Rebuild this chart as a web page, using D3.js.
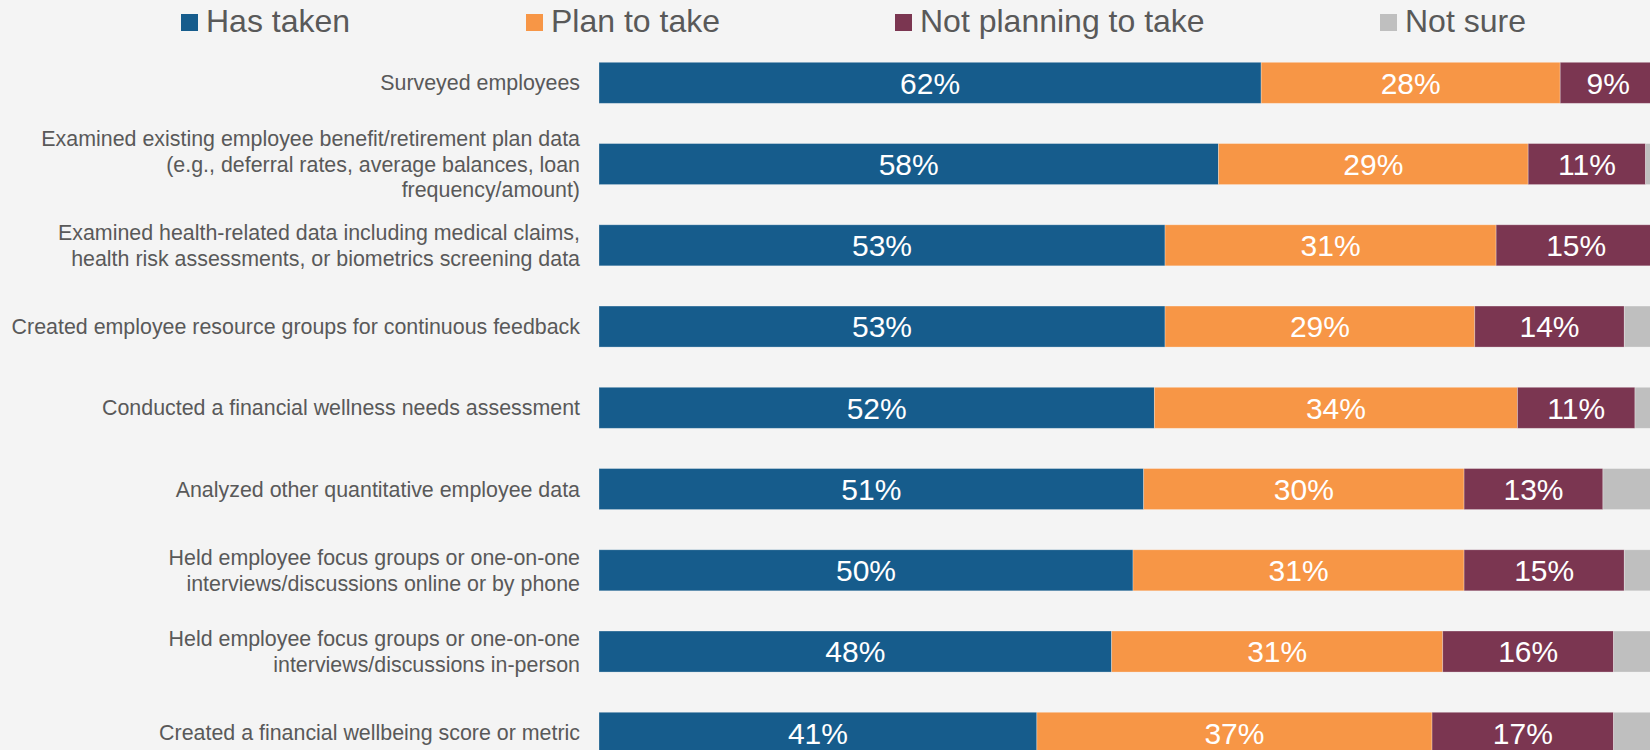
<!DOCTYPE html>
<html>
<head>
<meta charset="utf-8">
<script src="https://cdn.jsdelivr.net/npm/d3@7"></script>
<style>
  html, body { margin: 0; padding: 0; background: #f4f4f4; overflow: hidden; }
  svg { display: block; font-family: "Liberation Sans", Arial, sans-serif; }
</style>
</head>
<body>
<svg id="chart" width="1650" height="750"></svg>
<script>
// Actions taken to understand employee needs
const categories = [
  "Surveyed employees",
  "Examined existing employee benefit/retirement plan data (e.g., deferral rates, average balances, loan frequency/amount)",
  "Examined health-related data including medical claims, health risk assessments, or biometrics screening data",
  "Created employee resource groups for continuous feedback",
  "Conducted a financial wellness needs assessment",
  "Analyzed other quantitative employee data",
  "Held employee focus groups or one-on-one interviews/discussions online or by phone",
  "Held employee focus groups or one-on-one interviews/discussions in-person",
  "Created a financial wellbeing score or metric"
];
const seriesNames = ["Has taken", "Plan to take", "Not planning to take", "Not sure"];
const hasTaken    = [62, 58, 53, 53, 52, 51, 50, 48, 41];
const planToTake  = [28, 29, 31, 29, 34, 30, 31, 31, 37];
const notPlanning = [9, 11, 15, 14, 11, 13, 15, 16, 17];
const notSure     = [1, 2, 1, 4, 3, 6, 4, 5, 5];
const colors = ["#165c8c", "#f79646", "#7b3651", "#bfbfbf"];

const W = 1650, H = 750;
const svg = d3.select("#chart");
svg.append("rect").attr("width", W).attr("height", H).attr("fill", "#f4f4f4");

const table = categories.map((c, i) => ({
  category: c,
  "Has taken": hasTaken[i],
  "Plan to take": planToTake[i],
  "Not planning to take": notPlanning[i],
  "Not sure": notSure[i]
}));
const stacked = d3.stack().keys(seriesNames)(table);

const x = d3.scaleLinear().domain([0, 100]).range([599, 1667]);
const y = d3.scaleBand().domain(categories).range([62.3, 753.3])
  .paddingInner(0.495).paddingOuter(0);

const layers = svg.append("g").selectAll("g")
  .data(stacked).join("g")
  .attr("fill", (d, i) => colors[i]);

layers.selectAll("rect")
  .data(d => d.map(s => ({ s, key: d.key })))
  .join("rect")
  .attr("x", d => x(d.s[0]))
  .attr("y", d => y(d.s.data.category))
  .attr("width", d => x(d.s[1]) - x(d.s[0]))
  .attr("height", y.bandwidth())
  .attr("stroke", "#ffffff")
  .attr("stroke-opacity", 0.35)
  .attr("stroke-width", 0.8);

// value labels inside the first three segments
layers.filter((d, i) => i < 3).selectAll("text")
  .data(d => d)
  .join("text")
  .attr("x", d => (x(d[0]) + x(d[1])) / 2)
  .attr("y", d => y(d.data.category) + y.bandwidth() / 2)
  .attr("dy", "0.36em")
  .attr("text-anchor", "middle")
  .attr("fill", "#ffffff")
  .attr("font-size", 30)
  .text(d => `${d[1] - d[0]}%`);

// category labels, wrapped and right-aligned next to the bars
const labelX = 580, wrapWidth = 576, lineH = 25.8, labelSize = 21.4;
const labelG = svg.append("g")
  .attr("font-size", labelSize)
  .attr("fill", "#595959")
  .attr("text-anchor", "end");

categories.forEach(cat => {
  const t = labelG.append("text").attr("x", labelX);
  const words = cat.split(" ");
  const lines = [];
  let line = [];
  const probe = t.append("tspan");
  words.forEach(w => {
    const trial = line.concat(w).join(" ");
    probe.text(trial);
    if (probe.node().getComputedTextLength() > wrapWidth && line.length) {
      lines.push(line.join(" "));
      line = [w];
    } else {
      line.push(w);
    }
  });
  lines.push(line.join(" "));
  probe.remove();
  const cy = y(cat) + y.bandwidth() / 2;
  const top = cy - (lines.length - 1) * lineH / 2;
  lines.forEach((l, k) => {
    t.append("tspan")
      .attr("x", labelX)
      .attr("y", top + k * lineH)
      .attr("dy", "0.35em")
      .text(l);
  });
});

// legend across the top: swatch left edges
const legendX = [181, 526, 895, 1380];
const legend = svg.append("g").selectAll("g")
  .data(seriesNames).join("g")
  .attr("transform", (d, i) => `translate(${legendX[i]},0)`);
legend.append("rect")
  .attr("y", 14).attr("width", 17).attr("height", 17)
  .attr("fill", (d, i) => colors[i]);
legend.append("text")
  .attr("x", 25).attr("y", 32.3)
  .attr("font-size", 32)
  .attr("fill", "#595959")
  .attr("transform", "scale(1,1)")
  .text(d => d);
</script>
</body>
</html>
